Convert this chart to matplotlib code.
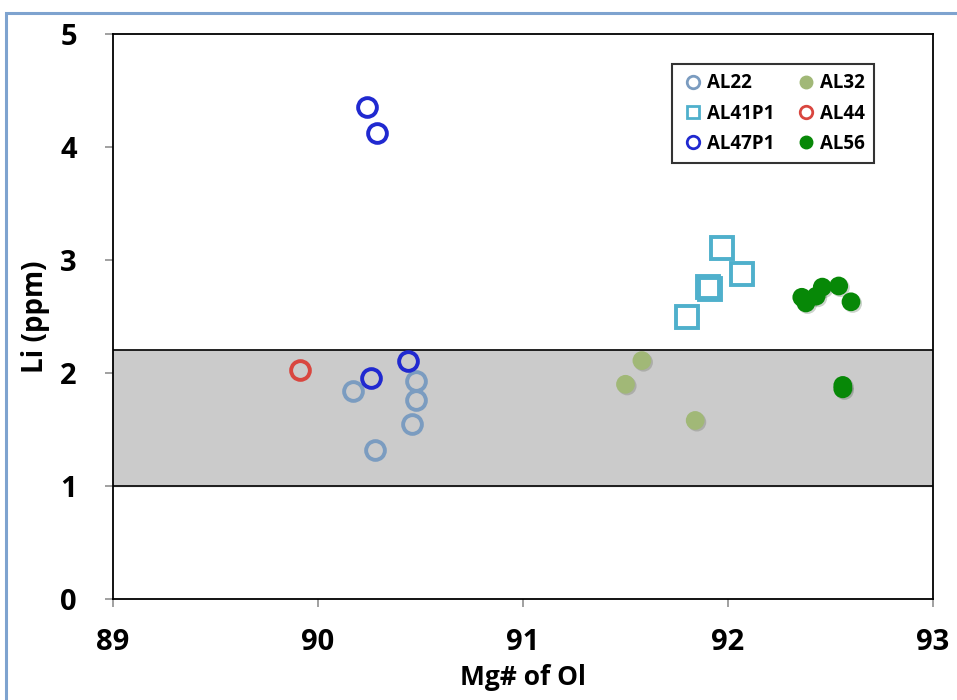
import matplotlib
matplotlib.use("Agg")
import matplotlib.pyplot as plt
import matplotlib.patheffects as pe
from matplotlib.patches import Rectangle
from matplotlib.lines import Line2D

plt.rcParams['font.family'] = ['Open Sans', 'DejaVu Sans']
plt.rcParams['font.weight'] = 'bold'

# Data
al22_x = [90.17, 90.28, 90.48, 90.48, 90.46]
al22_y = [1.84, 1.32, 1.93, 1.76, 1.55]

al32_x = [91.50, 91.58, 91.84]
al32_y = [1.90, 2.11, 1.58]

al41_x = [91.97, 92.07, 91.90, 91.91, 91.80]
al41_y = [3.11, 2.88, 2.76, 2.74, 2.50]

al44_x = [89.91]
al44_y = [2.03]

al47_x = [90.24, 90.29, 90.26, 90.44]
al47_y = [4.35, 4.12, 1.96, 2.11]

al56_x = [92.36, 92.38, 92.43, 92.46, 92.54, 92.60, 92.56, 92.56]
al56_y = [2.67, 2.62, 2.68, 2.76, 2.77, 2.63, 1.89, 1.86]

band_low, band_high = 1.0, 2.2
xticks = [89, 90, 91, 92, 93]
yticks = [0, 1, 2, 3, 4, 5]

fig = plt.figure(figsize=(9.57, 7.0), dpi=100)
# outer frame
fig.patches.append(Rectangle((6/957, -0.05), 1.2, 1 - 13/700 + 0.05, transform=fig.transFigure,
                             fill=False, edgecolor='#7ea3cf', linewidth=2.2))
ax = fig.add_axes([113/957, 1 - 599/700, (933 - 113)/957, (599 - 34)/700])
ax.set_xlim(89, 93)
ax.set_ylim(0, 5)

ax.axhspan(band_low, band_high, color='#cbcbcb', zorder=0)
ax.axhline(band_low, color='black', lw=1.2, zorder=1)
ax.axhline(band_high, color='black', lw=1.2, zorder=1)

shadow = [pe.SimplePatchShadow(offset=(1.2, -1.2), alpha=0.2), pe.Normal()]

def open_pts(x, y, color, marker='o', ms=13.5):
    ax.plot(x, y, linestyle='none', marker=marker, ms=ms, mfc='none',
            mec=color, mew=2.8, zorder=3)

def filled_pts(x, y, color, ms=13.5):
    l, = ax.plot(x, y, linestyle='none', marker='o', ms=ms, mfc=color,
                 mec=color, mew=0, zorder=3)
    l.set_path_effects(shadow)

open_pts(al22_x, al22_y, '#7b9cc0')
filled_pts(al32_x, al32_y, '#a1b877')
open_pts(al41_x, al41_y, '#4fb0cc', marker='s', ms=15.5)
open_pts(al44_x, al44_y, '#d9463f')
open_pts(al47_x, al47_y, '#2029d0')
filled_pts(al56_x, al56_y, '#078807')

ax.set_xticks(xticks)
ax.set_yticks(yticks)
ax.set_xticklabels([str(t) for t in xticks], fontweight='bold')
ax.set_yticklabels([str(t) for t in yticks], fontweight='bold')
ax.tick_params(axis='both', direction='out', length=6, width=1.3, color='#999999',
               labelsize=21)
ax.tick_params(axis='y', pad=20)
ax.tick_params(axis='x', pad=15)
for s in ax.spines.values():
    s.set_linewidth(1.3)
    s.set_color('black')

ax.set_xlabel('Mg# of Ol', fontsize=19, fontweight='bold', labelpad=5)
ax.set_ylabel('Li (ppm)', fontsize=20, fontweight='bold', labelpad=7)

handles = [
    Line2D([], [], ls='none', marker='o', ms=9, mfc='none', mec='#7b9cc0', mew=2),
    Line2D([], [], ls='none', marker='s', ms=9, mfc='none', mec='#4fb0cc', mew=2),
    Line2D([], [], ls='none', marker='o', ms=9, mfc='none', mec='#2029d0', mew=2),
    Line2D([], [], ls='none', marker='o', ms=9, mfc='#a1b877', mec='#a1b877'),
    Line2D([], [], ls='none', marker='o', ms=9, mfc='none', mec='#d9463f', mew=2),
    Line2D([], [], ls='none', marker='o', ms=9, mfc='#078807', mec='#078807'),
]
labels = ['AL22', 'AL41P1', 'AL47P1', 'AL32', 'AL44', 'AL56']
leg = ax.legend(handles, labels, ncol=2, loc='upper left',
                bbox_to_anchor=((672 - 113)/820, 1 - (64 - 34)/565),
                borderaxespad=0,
                frameon=True, fancybox=False, edgecolor='black',
                prop={'weight': 'bold', 'size': 13.5}, handletextpad=0.15,
                columnspacing=1.1, borderpad=0.5, labelspacing=0.55, handlelength=1.2)
leg.get_frame().set_linewidth(1.5)

fig.savefig('out.png', dpi=100, facecolor='white')
